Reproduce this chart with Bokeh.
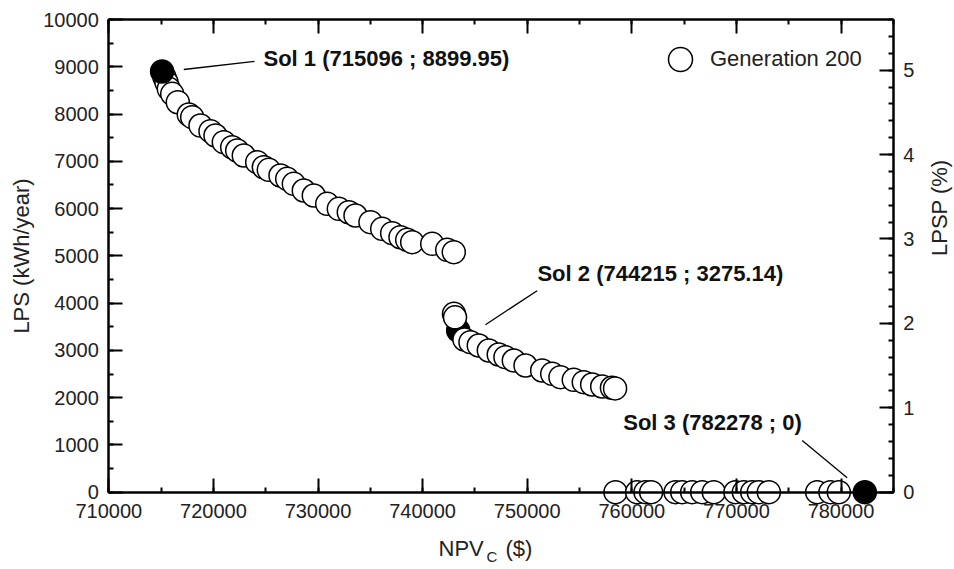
from bokeh.plotting import figure
from bokeh.models import (Range1d, LinearAxis, SingleIntervalTicker, Label,
                          Legend, LegendItem, BasicTickFormatter)
from bokeh.embed import file_html
from bokeh.resources import INLINE
import math

# ---------------- data ----------------
# Generation 200 (white circles): NPV_C ($) and LPS (kWh/year)
gen200_npv = [715325, 715516, 715736, 716061, 716596, 717648, 717973, 718767,
              719722, 720200, 720994, 721797, 722275, 722906, 724187, 724818,
              725296, 726415, 727055, 727686, 728642, 729598, 730879, 731988,
              732944, 733585, 735018, 736136, 737092, 737887, 738527, 739005,
              740917, 742351, 742982,
              743000, 743100, 744000, 744580, 745370, 746330, 747280, 747920,
              748720, 749840, 751430, 752390, 753180, 754450, 755410, 756210,
              757170, 758100, 758400,
              758440, 760510, 761310, 761850, 764180, 764820, 765770, 766730,
              767840, 769910, 770710, 771510, 772140, 773100, 777720, 778990,
              779790]
gen200_lps = [8779, 8673, 8534, 8428, 8250, 7990, 7933, 7757,
              7637, 7546, 7404, 7298, 7229, 7123, 6981, 6875,
              6820, 6700, 6630, 6524, 6382, 6277, 6101, 5995,
              5923, 5854, 5712, 5572, 5479, 5394, 5339, 5289,
              5255, 5128, 5077,
              3774, 3700, 3230, 3173, 3103, 2998, 2913, 2856,
              2786, 2680, 2575, 2505, 2433, 2378, 2327, 2278,
              2236, 2210, 2195,
              0, 0, 0, 0, 0, 0, 0, 0,
              0, 0, 0, 0, 0, 0, 0, 0,
              0]

# Selected solutions (black circles)
sol_npv = [715096, 743400, 782278]
sol_lps = [8899.95, 3420, 0]
sol_labels = ["Sol 1 (715096 ; 8899.95)", "Sol 2 (744215 ; 3275.14)",
              "Sol 3 (782278 ; 0)"]

# annotation text anchors and leader lines (data coordinates)
label_npv = [724790, 750980, 759180]
label_lps = [9175, 4626, 1474]
leader_x0 = [717170, 746010, 776290]
leader_y0 = [8942, 3544, 1095]
leader_x1 = [723930, 750950, 780590]
leader_y1 = [9114, 4263, 305]

x_start, x_end = 710000, 785000
y_start, y_end = 0, 10000
total_load = 178550  # kWh/year -> LPSP(%) = LPS / total_load * 100
legend_label = "Generation 200"

FONT = "Liberation Sans"
W, H = 954, 569
# pixel placement of the axes box inside the canvas
BOX_L, BOX_R, BOX_T, BOX_B = 108.3, 892.8, 19.0, 491.7

ux = (x_end - x_start) / (BOX_R - BOX_L)       # data units per pixel
uy = (y_end - y_start) / (BOX_B - BOX_T)
xr = Range1d(x_start - BOX_L * ux, x_end + (W - BOX_R) * ux)
yr_ = Range1d(y_start - (H - BOX_B) * uy, y_end + BOX_T * uy)

p = figure(width=W, height=H, x_range=xr, y_range=yr_,
           output_backend="svg", toolbar_location=None,
           x_axis_location=None, y_axis_location=None,
           min_border=0, min_border_left=0, min_border_right=0,
           min_border_top=0, min_border_bottom=0)
p.outline_line_color = None
p.xgrid.visible = False
p.ygrid.visible = False
p.background_fill_color = "white"
p.border_fill_color = "white"


def style(ax):
    ax.axis_line_color = "black"
    ax.axis_line_width = 2.5
    ax.major_tick_in = 14
    ax.major_tick_out = 0
    ax.minor_tick_in = 5
    ax.minor_tick_out = 0
    ax.major_tick_line_width = 2
    ax.minor_tick_line_width = 2
    ax.major_tick_line_color = "black"
    ax.minor_tick_line_color = "black"
    ax.major_label_text_font = FONT
    ax.major_label_text_font_size = "20px"
    ax.major_label_text_color = "#222222"
    ax.axis_label_text_font = FONT
    ax.axis_label_text_font_size = "22px"
    ax.axis_label_text_font_style = "normal"
    ax.axis_label_text_color = "#222222"


fmt = BasicTickFormatter(use_scientific=False)

xb = LinearAxis(ticker=SingleIntervalTicker(interval=10000, num_minor_ticks=2),
                formatter=fmt, fixed_location=y_start, bounds=(x_start, x_end),
                major_label_standoff=12)
style(xb)
p.add_layout(xb, "below")

xt = LinearAxis(ticker=SingleIntervalTicker(interval=10000, num_minor_ticks=2),
                fixed_location=y_end, bounds=(x_start, x_end))
style(xt)
xt.major_label_text_color = None
p.add_layout(xt, "above")

yl = LinearAxis(ticker=SingleIntervalTicker(interval=1000, num_minor_ticks=2),
                fixed_location=x_start, bounds=(y_start, y_end),
                axis_label="LPS (kWh/year)",
                axis_label_standoff=6, major_label_standoff=10)
style(yl)
p.add_layout(yl, "left")

k = 100.0 / total_load
p.extra_y_ranges = {"lpsp": Range1d(yr_.start * k, yr_.end * k)}
yr = LinearAxis(y_range_name="lpsp",
                ticker=SingleIntervalTicker(interval=1, num_minor_ticks=5),
                fixed_location=x_end, bounds=(y_start * k, y_end * k),
                axis_label="LPSP (%)",
                axis_label_standoff=22, major_label_standoff=10)
style(yr)
yr.axis_label_orientation = math.pi / 2
p.add_layout(yr, "right")

# ---------------- glyphs ----------------
p.scatter(sol_npv[1:2], sol_lps[1:2], size=23, marker="circle",
          fill_color="black", line_color="black", line_width=1.5)
r_white = p.scatter(gen200_npv, gen200_lps, size=23, marker="circle",
                    fill_color="white", line_color="black", line_width=1.5)
p.scatter([sol_npv[0], sol_npv[2]], [sol_lps[0], sol_lps[2]], size=23,
          marker="circle", fill_color="black", line_color="black",
          line_width=1.5)

p.segment(leader_x0, leader_y0, leader_x1, leader_y1,
          line_color="black", line_width=1.3)

for lx, ly, txt in zip(label_npv, label_lps, sol_labels):
    p.add_layout(Label(x=lx, y=ly, text=txt, text_font=FONT,
                       text_font_size="22px", text_font_style="bold",
                       text_baseline="alphabetic", text_color="#111111"))

# x-axis title with subscript (placed below the axis, in data units)
xlab_y = y_start - (548 - BOX_B) * uy
sub_y = y_start - (556 - BOX_B) * uy
p.add_layout(Label(x=x_start + (438 - BOX_L) * ux, y=xlab_y, text="NPV",
                   text_font=FONT, text_font_size="22px",
                   text_baseline="alphabetic", text_color="#222222"))
p.add_layout(Label(x=x_start + (486 - BOX_L) * ux, y=sub_y, text="C",
                   text_font=FONT, text_font_size="15px",
                   text_baseline="alphabetic", text_color="#222222"))
p.add_layout(Label(x=x_start + (505 - BOX_L) * ux, y=xlab_y, text="($)",
                   text_font=FONT, text_font_size="22px",
                   text_baseline="alphabetic", text_color="#222222"))

legend = Legend(items=[LegendItem(label=legend_label, renderers=[r_white])],
                location=(650, 480), glyph_width=60, glyph_height=60,
                padding=0, margin=0, label_standoff=0,
                border_line_color=None, background_fill_alpha=0,
                label_text_font=FONT, label_text_font_size="22px",
                label_text_color="#222222")
p.add_layout(legend)

open("out.html", "w").write(file_html(p, INLINE))
